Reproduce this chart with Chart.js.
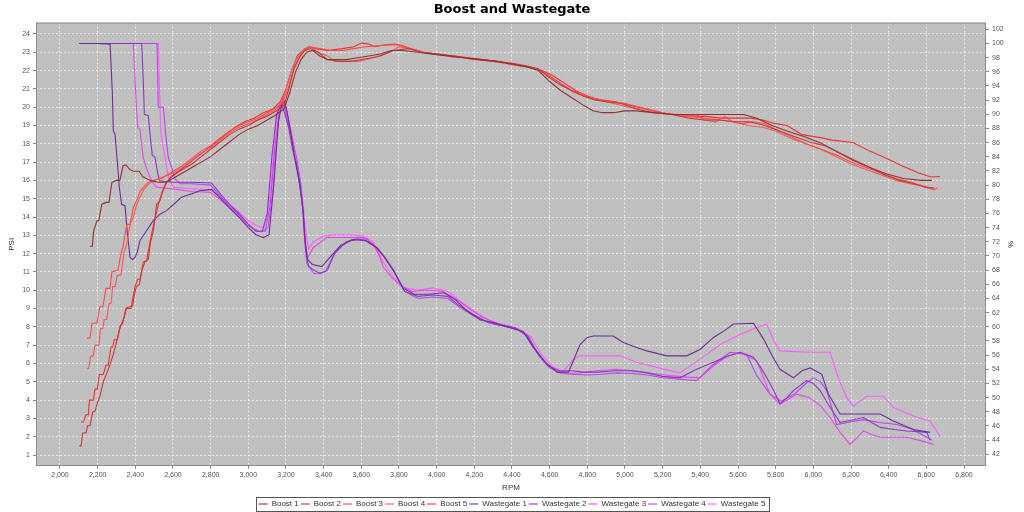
<!DOCTYPE html>
<html>
<head>
<meta charset="utf-8">
<title>Boost and Wastegate</title>
<script src="https://cdn.jsdelivr.net/npm/chart.js@4.4.1/dist/chart.umd.min.js"></script>
<style>
  html, body { margin: 0; padding: 0; background: #fff; }
</style>
</head>
<body>
<canvas id="boostChart" width="1024" height="512"></canvas>
<script>
// axis ticks
const rpmTicks = [2000, 2200, 2400, 2600, 2800, 3000, 3200, 3400, 3600, 3800, 4000, 4200, 4400, 4600, 4800, 5000, 5200, 5400, 5600, 5800, 6000, 6200, 6400, 6600, 6800];
const psiTicks = [1, 2, 3, 4, 5, 6, 7, 8, 9, 10, 11, 12, 13, 14, 15, 16, 17, 18, 19, 20, 21, 22, 23, 24];
const pctTicks = [42, 44, 46, 48, 50, 52, 54, 56, 58, 60, 62, 64, 66, 68, 70, 72, 74, 76, 78, 80, 82, 84, 86, 88, 90, 92, 94, 96, 98, 100, 102];

const seriesNames = ['Boost 1', 'Boost 2', 'Boost 3', 'Boost 4', 'Boost 5', 'Wastegate 1', 'Wastegate 2', 'Wastegate 3', 'Wastegate 4', 'Wastegate 5'];

// boost logs: [rpm, psi]
const boost1 = [[2159,12.4],[2172,12.4],[2178,13.2],[2196,13.8],[2206,13.8],[2222,14.7],[2244,14.8],[2260,14.8],[2276,15.9],[2300,16.0],[2318,16.0],[2335,16.8],[2350,16.85],[2370,16.6],[2390,16.5],[2420,16.5],[2440,16.2],[2480,16.0],[2520,15.9],[2560,15.9],[2600,16.1],[2650,16.4],[2700,16.7],[2750,17.0],[2800,17.3],[2850,17.7],[2900,18.1],[2950,18.5],[3000,18.8],[3050,19.0],[3100,19.3],[3150,19.6],[3190,19.9],[3220,20.8],[3250,21.9],[3280,22.6],[3310,23.0],[3340,23.1],[3380,22.8],[3420,22.6],[3460,22.6],[3520,22.6],[3580,22.7],[3640,22.8],[3700,22.9],[3760,23.1],[3820,23.1],[3900,23.0],[3980,22.9],[4060,22.8],[4140,22.7],[4230,22.6],[4320,22.5],[4400,22.35],[4480,22.2],[4540,22.0],[4600,21.4],[4660,20.9],[4720,20.5],[4780,20.1],[4830,19.8],[4880,19.7],[4940,19.7],[5000,19.8],[5060,19.8],[5150,19.7],[5250,19.6],[5350,19.6],[5450,19.6],[5550,19.6],[5630,19.6],[5700,19.4],[5780,19.0],[5860,18.7],[5950,18.4],[6040,18.05],[6120,17.6],[6210,17.1],[6300,16.7],[6390,16.35],[6480,16.1],[6570,16.0],[6630,16.0]];
const boost2 = [[2103,1.5],[2112,1.5],[2120,2.2],[2138,2.2],[2147,2.6],[2159,2.6],[2174,3.35],[2186,3.4],[2200,3.9],[2212,4.2],[2230,5.0],[2250,5.5],[2266,5.95],[2283,6.5],[2297,7.05],[2319,7.95],[2340,8.5],[2354,9.05],[2386,9.15],[2392,9.6],[2405,10.2],[2421,10.3],[2434,11.05],[2451,11.55],[2469,11.7],[2480,12.6],[2495,13.2],[2504,13.9],[2513,14.7],[2531,14.9],[2549,15.5],[2566,15.9],[2602,16.3],[2650,16.6],[2700,16.9],[2750,17.3],[2800,17.7],[2850,18.1],[2900,18.5],[2950,18.8],[3000,19.0],[3050,19.3],[3100,19.5],[3150,19.8],[3190,20.1],[3215,21.0],[3245,22.2],[3275,22.8],[3300,23.1],[3330,23.2],[3370,23.0],[3420,22.6],[3480,22.5],[3540,22.5],[3600,22.6],[3660,22.7],[3700,22.8],[3770,23.1],[3850,23.2],[3920,23.0],[4000,22.9],[4080,22.8],[4160,22.7],[4240,22.6],[4320,22.5],[4400,22.4],[4480,22.25],[4540,22.1],[4600,21.6],[4660,21.2],[4720,20.9],[4780,20.6],[4840,20.4],[4900,20.3],[4980,20.2],[5060,19.9],[5150,19.7],[5250,19.6],[5340,19.4],[5420,19.3],[5500,19.3],[5580,19.2],[5660,19.2],[5740,19.0],[5820,18.7],[5900,18.4],[5980,18.1],[6060,17.9],[6140,17.5],[6220,17.1],[6300,16.7],[6380,16.3],[6460,16.0],[6540,15.8],[6600,15.6],[6640,15.6]];
const boost3 = [[2143,7.4],[2159,7.4],[2170,8.2],[2196,8.2],[2212,9.1],[2228,9.1],[2244,10.1],[2265,10.1],[2276,11.0],[2308,11.1],[2324,12.0],[2335,12.4],[2345,13.0],[2355,13.6],[2372,13.6],[2389,14.5],[2407,14.9],[2425,15.4],[2442,15.6],[2469,15.9],[2500,16.0],[2540,16.1],[2600,16.5],[2650,16.8],[2700,17.2],[2750,17.6],[2800,17.9],[2850,18.3],[2900,18.7],[2950,19.0],[3000,19.2],[3050,19.4],[3100,19.7],[3150,20.0],[3180,20.2],[3210,21.0],[3240,22.0],[3270,22.7],[3300,23.1],[3330,23.3],[3380,23.2],[3440,23.1],[3500,23.1],[3560,23.2],[3620,23.3],[3680,23.35],[3740,23.4],[3800,23.4],[3860,23.2],[3930,23.0],[4000,22.9],[4080,22.75],[4160,22.7],[4240,22.6],[4320,22.5],[4400,22.35],[4480,22.2],[4540,22.05],[4600,21.7],[4660,21.3],[4720,20.9],[4780,20.7],[4850,20.4],[4930,20.3],[5000,20.2],[5080,20.0],[5160,19.8],[5240,19.6],[5320,19.5],[5380,19.6],[5420,19.3],[5480,19.2],[5530,19.5],[5570,19.2],[5620,19.1],[5680,19.2],[5740,19.1],[5800,18.8],[5880,18.4],[5960,18.0],[6040,17.7],[6120,17.4],[6200,17.0],[6280,16.7],[6360,16.4],[6440,16.1],[6520,15.9],[6580,15.7],[6640,15.5],[6660,15.6]];
const boost4 = [[2142,5.7],[2152,5.75],[2163,6.4],[2176,6.4],[2186,7.0],[2207,7.0],[2215,7.9],[2227,7.9],[2235,8.4],[2248,8.4],[2260,9.25],[2271,9.3],[2280,10.2],[2292,10.2],[2304,10.8],[2324,10.85],[2340,12.05],[2354,12.5],[2372,13.6],[2390,14.0],[2405,14.6],[2425,15.1],[2445,15.5],[2470,15.8],[2500,16.0],[2550,16.2],[2600,16.4],[2650,16.7],[2700,17.1],[2750,17.5],[2800,17.8],[2850,18.2],[2900,18.6],[2950,18.9],[3000,19.1],[3050,19.3],[3100,19.6],[3150,19.9],[3185,20.4],[3210,21.4],[3240,22.3],[3265,22.8],[3300,23.2],[3330,23.3],[3370,23.0],[3420,22.8],[3460,22.5],[3520,22.5],[3580,22.5],[3630,22.6],[3690,22.8],[3750,23.0],[3800,23.3],[3860,23.2],[3930,23.0],[4010,22.85],[4090,22.8],[4170,22.7],[4250,22.6],[4330,22.45],[4410,22.3],[4490,22.2],[4550,22.0],[4610,21.6],[4670,21.2],[4730,20.8],[4790,20.6],[4860,20.4],[4940,20.2],[5020,20.0],[5100,19.9],[5180,19.7],[5260,19.6],[5340,19.5],[5420,19.4],[5500,19.3],[5580,19.2],[5650,19.0],[5730,18.9],[5800,18.7],[5880,18.3],[5960,18.0],[6040,17.7],[6120,17.3],[6200,16.9],[6280,16.6],[6360,16.3],[6440,16.0],[6520,15.8],[6580,15.7],[6640,15.55]];
const boost5 = [[2112,2.8],[2124,2.8],[2138,3.2],[2151,3.2],[2156,4.0],[2177,4.0],[2186,4.6],[2198,4.6],[2209,5.4],[2230,5.4],[2244,5.9],[2256,5.9],[2271,6.9],[2280,6.9],[2288,7.3],[2304,7.3],[2319,8.05],[2333,8.2],[2350,9.0],[2377,9.0],[2398,10.2],[2412,10.6],[2425,10.6],[2442,11.55],[2460,11.6],[2469,12.15],[2487,13.1],[2504,13.9],[2520,14.6],[2540,15.3],[2560,15.8],[2590,16.2],[2630,16.5],[2680,16.9],[2730,17.3],[2780,17.7],[2830,18.1],[2880,18.5],[2930,18.9],[2980,19.2],[3030,19.4],[3080,19.7],[3130,19.9],[3170,20.3],[3200,21.0],[3230,22.0],[3260,22.8],[3290,23.1],[3320,23.3],[3360,23.2],[3420,23.1],[3500,23.2],[3560,23.3],[3600,23.5],[3640,23.45],[3670,23.3],[3720,23.4],[3780,23.45],[3820,23.35],[3860,23.2],[3930,23.0],[4010,22.9],[4090,22.8],[4170,22.65],[4250,22.55],[4330,22.45],[4410,22.35],[4490,22.2],[4560,22.0],[4620,21.7],[4680,21.3],[4740,20.9],[4800,20.6],[4870,20.4],[4950,20.3],[5030,20.1],[5110,19.9],[5190,19.7],[5270,19.6],[5350,19.5],[5430,19.5],[5510,19.4],[5590,19.4],[5670,19.4],[5730,19.3],[5800,19.1],[5860,19.0],[5940,18.5],[6030,18.35],[6100,18.2],[6210,18.07],[6300,17.6],[6390,17.2],[6470,16.8],[6560,16.4],[6620,16.2],[6673,16.2]];

// wastegate logs: [rpm, %]
const wastegate1 = [[2103,100],[2200,100],[2266,99.9],[2278,93],[2283,87.7],[2292,87.2],[2304,83.4],[2315,79.7],[2327,77.3],[2345,77.1],[2358,73.1],[2372,69.8],[2385,69.5],[2398,69.8],[2410,70.5],[2425,72.2],[2460,73.6],[2495,75.0],[2531,75.9],[2566,76.4],[2600,77.2],[2646,78.3],[2700,78.8],[2743,79.2],[2805,79.4],[2850,78.2],[2900,76.8],[2950,75.5],[3000,74.0],[3040,73.0],[3080,72.6],[3110,73.0],[3135,80],[3160,89],[3185,92.3],[3205,90.5],[3225,87.5],[3245,84.0],[3270,80.5],[3290,76.5],[3300,72.5],[3315,69.5],[3340,68.8],[3390,68.5],[3440,70.0],[3490,71.5],[3550,72.3],[3620,72.2],[3680,71.2],[3720,70.0],[3770,68.0],[3820,65.5],[3880,64.6],[3960,64.6],[4040,64.8],[4100,63.8],[4160,62.3],[4230,61.0],[4300,60.6],[4400,59.8],[4460,59.3],[4510,57.2],[4580,54.9],[4640,53.6],[4700,53.6],[4726,55.2],[4761,57.5],[4800,58.5],[4832,58.7],[4938,58.7],[4991,57.8],[5050,57.2],[5116,56.6],[5222,55.9],[5328,55.9],[5398,56.8],[5470,58.5],[5530,59.5],[5575,60.4],[5682,60.5],[5735,58.3],[5780,56.0],[5823,54.0],[5894,52.8],[5940,53.8],[5983,54.2],[6045,53.3],[6080,50.5],[6142,47.7],[6266,47.7],[6355,47.7],[6425,46.7],[6531,45.5],[6620,45.1]];
const wastegate2 = [[2103,100],[2300,100],[2434,100],[2442,95],[2448,90.0],[2469,89.8],[2478,87.2],[2490,84.2],[2504,84.0],[2520,81.5],[2531,80.6],[2602,80.4],[2700,80.4],[2805,80.3],[2850,78.8],[2900,77.3],[2950,76.0],[3000,74.5],[3040,73.5],[3075,73.5],[3100,76],[3125,84],[3150,90],[3175,91.5],[3195,90],[3215,88],[3235,85],[3255,83],[3275,80],[3292,76],[3303,71],[3320,68.5],[3380,67.5],[3420,68.0],[3460,70.5],[3520,72.0],[3580,72.4],[3640,72.0],[3690,71.0],[3730,69.5],[3780,67.5],[3830,65.0],[3900,64.3],[3980,64.5],[4060,64.3],[4120,63.0],[4190,61.8],[4260,60.8],[4340,60.2],[4420,59.8],[4480,58.8],[4530,56.5],[4590,54.5],[4650,53.8],[4720,53.8],[4780,53.6],[4860,53.6],[4950,53.8],[5027,53.8],[5120,53.5],[5200,53.0],[5292,52.8],[5380,54.0],[5470,55.0],[5540,55.8],[5611,56.4],[5682,55.7],[5720,54.3],[5753,52.8],[5790,51.0],[5823,49.1],[5860,50.0],[5894,51.0],[5965,52.4],[6000,52.0],[6036,51.0],[6080,49.0],[6142,46.5],[6200,46.8],[6266,47.2],[6310,46.5],[6355,45.8],[6430,45.5],[6496,45.3],[6560,45.2],[6602,45.1],[6620,44.0]];
const wastegate3 = [[2103,100],[2300,100],[2389,100],[2400,94],[2412,88.2],[2425,87.8],[2442,83.9],[2460,82.3],[2487,80.6],[2513,79.7],[2620,79.4],[2700,79.1],[2796,79.0],[2840,78.2],[2890,77.0],[2940,75.8],[2990,74.6],[3030,73.8],[3070,73.4],[3105,74],[3130,79],[3150,87],[3170,91.0],[3195,91.5],[3215,89],[3240,86],[3265,82],[3285,78],[3297,73],[3310,69.5],[3345,71.2],[3416,72.6],[3500,72.6],[3610,72.6],[3664,71.7],[3699,69.8],[3717,68.4],[3760,67.0],[3810,65.8],[3870,65.0],[3950,65.2],[4030,65.0],[4100,64.0],[4170,62.6],[4240,61.4],[4320,60.5],[4400,60.0],[4460,59.3],[4510,57.5],[4570,55.0],[4640,53.6],[4700,53.4],[4760,53.5],[4850,53.8],[4950,54.0],[5050,53.8],[5150,53.4],[5250,53.1],[5330,52.9],[5398,52.8],[5470,54.5],[5540,55.8],[5611,56.4],[5700,55.2],[5740,52.5],[5770,50.5],[5823,49.1],[5870,49.8],[5912,50.5],[5980,50.0],[6040,48.8],[6089,47.2],[6142,45.1],[6195,43.4],[6230,44.3],[6266,45.3],[6310,44.8],[6355,44.4],[6430,44.4],[6496,44.4],[6560,44.0],[6638,43.4]];
const wastegate4 = [[2103,100],[2400,100],[2515,100],[2522,91.0],[2549,91.0],[2561,87.2],[2575,83.9],[2593,82.5],[2611,80.9],[2637,80.2],[2700,80.2],[2800,80.0],[2850,78.5],[2900,77.0],[2950,75.8],[3000,74.3],[3050,73.5],[3090,73.5],[3115,77],[3140,85],[3165,90.5],[3185,91.8],[3210,89],[3230,86.5],[3255,84],[3280,80],[3298,74],[3310,69.0],[3350,67.5],[3410,67.8],[3450,70.0],[3500,71.5],[3560,72.4],[3630,72.4],[3680,71.0],[3720,70.0],[3770,68.0],[3830,65.0],[3900,64.0],[3980,64.2],[4060,64.0],[4130,62.6],[4200,61.5],[4280,60.5],[4360,60.1],[4430,59.6],[4490,58.5],[4540,56.0],[4600,54.2],[4660,53.4],[4720,53.3],[4800,53.2],[4880,53.3],[4960,53.5],[5040,53.4],[5120,53.2],[5200,52.8],[5290,52.6],[5380,52.4],[5460,54.5],[5558,56.4],[5646,56.1],[5700,53.1],[5770,50.5],[5830,49.5],[5900,50.5],[5960,52.0],[6000,52.8],[6040,52.2],[6071,51.0],[6124,46.2],[6200,46.6],[6266,46.9],[6350,46.5],[6443,46.2],[6520,45.6],[6602,44.4],[6630,44.0]];
const wastegate5 = [[2103,100],[2400,100],[2522,100],[2530,92],[2536,87.2],[2558,83.9],[2575,81.1],[2602,79.7],[2700,79.5],[2800,79.3],[2850,78.4],[2900,77.3],[2950,76.2],[3000,75.0],[3050,74.2],[3080,74.0],[3100,75.5],[3120,80],[3145,88],[3170,91.8],[3195,91.2],[3220,88.5],[3245,84.5],[3270,81.0],[3290,77.5],[3302,74.0],[3320,71.0],[3345,72.0],[3400,72.8],[3460,73.0],[3540,73.0],[3610,72.8],[3664,72.0],[3690,70.5],[3720,69.0],[3770,67.0],[3830,65.5],[3900,65.2],[3980,65.5],[4060,65.0],[4130,63.5],[4200,62.2],[4270,61.0],[4350,60.3],[4430,59.8],[4500,58.6],[4550,56.3],[4610,54.5],[4670,53.6],[4726,55.4],[4761,55.9],[4870,55.9],[4973,55.9],[5062,55.0],[5180,54.2],[5292,53.5],[5398,55.4],[5505,57.5],[5611,58.9],[5690,59.8],[5753,60.4],[5790,58.0],[5823,56.6],[5900,56.5],[6000,56.4],[6089,56.4],[6130,53.0],[6177,50.0],[6213,48.8],[6283,50.2],[6372,50.2],[6425,48.6],[6531,47.4],[6620,46.7],[6673,44.5]];

const seriesData = [boost1, boost2, boost3, boost4, boost5, wastegate1, wastegate2, wastegate3, wastegate4, wastegate5];
const seriesColors = ['#8e3434', '#c43a3a', '#ff4a4a', '#f25a5a', '#f03030', '#6c2f96', '#8e35c8', '#e24ae8', '#b448f0', '#ff5cff'];

const tickFont = { family: 'Liberation Sans', size: 7 };
const labelFont = { family: 'Liberation Sans', size: 8 };

// grey plot background with a faint dot texture
const tile = document.createElement('canvas');
tile.width = 4; tile.height = 4;
const tctx = tile.getContext('2d');
tctx.fillStyle = '#c1c1c1';
tctx.fillRect(0, 0, 4, 4);
tctx.fillStyle = '#b7b7b7';
tctx.fillRect(0, 0, 1, 1);
tctx.fillRect(2, 2, 1, 1);

const plotBackground = {
    id: 'plotBackground',
    beforeDraw(chart) {
        const { ctx, chartArea: a } = chart;
        ctx.save();
        ctx.fillStyle = ctx.createPattern(tile, 'repeat');
        ctx.fillRect(a.left, a.top, a.right - a.left, a.bottom - a.top);
        ctx.restore();
    },
    afterDraw(chart) {
        const { ctx, chartArea: a } = chart;
        ctx.save();
        ctx.strokeStyle = '#8a8a8a';
        ctx.lineWidth = 1;
        ctx.strokeRect(a.left + 0.5, a.top + 0.5, a.right - a.left - 1, a.bottom - a.top - 1);
        // legend frame
        const boxes = chart.legend.legendHitBoxes;
        if (boxes && boxes.length) {
            const l = Math.min(...boxes.map(b => b.left)) - 3;
            const r = Math.max(...boxes.map(b => b.left + b.width)) + 3;
            const t = Math.min(...boxes.map(b => b.top)) - 3;
            const btm = Math.max(...boxes.map(b => b.top + b.height)) + 3;
            ctx.strokeStyle = '#555';
            ctx.strokeRect(Math.round(l) + 0.5, Math.round(t) + 0.5, Math.round(r - l), Math.round(btm - t));
        }
        ctx.restore();
    }
};

const datasets = seriesNames.map((name, i) => ({
    label: name,
    data: seriesData[i].map(p => ({ x: p[0], y: p[1] })),
    yAxisID: i < 5 ? 'y' : 'y1',
    borderColor: seriesColors[i],
    backgroundColor: seriesColors[i],
    borderWidth: 1.1,
    pointRadius: 0,
    pointStyle: 'line',
    showLine: true,
    fill: false,
    tension: 0
}));

const gridColor = 'rgba(255,255,255,0.6)';

const ctx = document.getElementById('boostChart').getContext('2d');
new Chart(ctx, {
    type: 'scatter',
    data: { datasets },
    plugins: [plotBackground],
    options: {
        responsive: false,
        animation: false,
        layout: { padding: { left: 0, right: 0, top: 0, bottom: -6 } },
        plugins: {
            title: {
                display: true,
                text: 'Boost and Wastegate',
                color: '#000',
                font: { family: 'DejaVu Sans', size: 13, weight: 'bold' },
                padding: { top: 2, bottom: 5 }
            },
            legend: {
                position: 'bottom',
                labels: {
                    usePointStyle: true,
                    pointStyle: 'line',
                    pointStyleWidth: 9,
                    padding: 2,
                    color: '#333',
                    font: labelFont
                }
            },
            tooltip: { enabled: false }
        },
        scales: {
            x: {
                type: 'linear',
                min: 1872.6,
                max: 6916.8,
                afterBuildTicks: s => { s.ticks = rpmTicks.map(v => ({ value: v })); },
                afterFit: s => { s.height = 32; },
                ticks: {
                    autoSkip: false,
                    maxRotation: 0,
                    padding: 2,
                    color: '#555',
                    font: tickFont,
                    callback: v => v.toLocaleString('en-US')
                },
                grid: { color: gridColor, tickColor: '#888', tickLength: 3 },
                border: { display: false, dash: [2, 2] },
                title: { display: true, text: 'RPM', color: '#333', font: labelFont, padding: { top: 0, bottom: 5 } }
            },
            y: {
                type: 'linear',
                position: 'left',
                min: 0.4,
                max: 24.62,
                afterBuildTicks: s => { s.ticks = psiTicks.map(v => ({ value: v })); },
                afterFit: s => { s.width = 36; },
                ticks: { padding: 3, color: '#555', font: tickFont },
                grid: { color: gridColor, tickColor: '#888', tickLength: 3 },
                border: { display: false, dash: [2, 2] },
                title: { display: true, text: 'PSI', color: '#333', font: labelFont, padding: { top: 7, bottom: 0 } }
            },
            y1: {
                type: 'linear',
                position: 'right',
                min: 40.35,
                max: 102.95,
                afterBuildTicks: s => { s.ticks = pctTicks.map(v => ({ value: v })); },
                afterFit: s => { s.width = 38; },
                ticks: { padding: 3, color: '#555', font: tickFont },
                grid: { drawOnChartArea: false, tickColor: '#888', tickLength: 3 },
                border: { display: false },
                title: { display: true, text: '%', color: '#333', font: labelFont, padding: { top: 9, bottom: 0 } }
            }
        }
    }
});
</script>
</body>
</html>
